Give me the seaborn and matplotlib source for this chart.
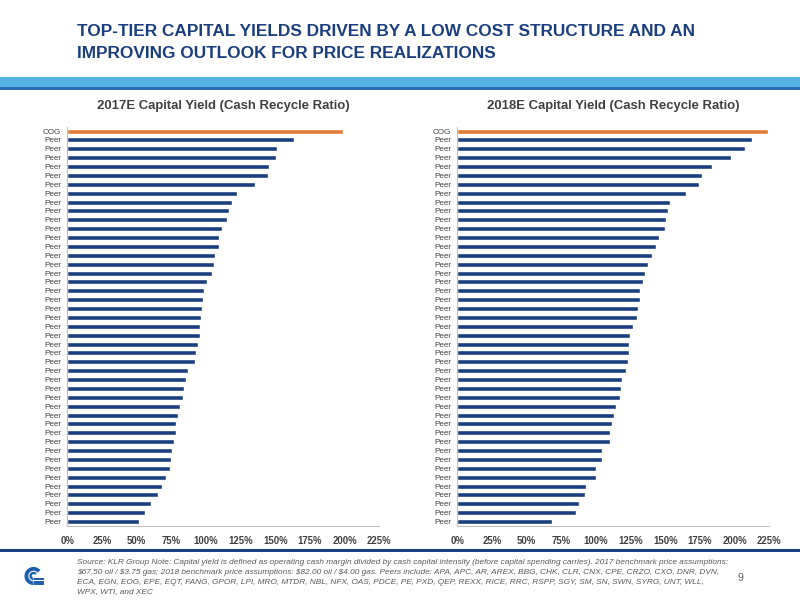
import numpy as np
import pandas as pd
import matplotlib
matplotlib.use("Agg")
import matplotlib.pyplot as plt
import matplotlib.font_manager as fm
from matplotlib.patches import Rectangle, Wedge
from matplotlib.ticker import FixedLocator, FuncFormatter
import seaborn as sns

# data (capital yield, %)
labels = ["COG"] + ["Peer"] * 44
yield_2017 = [198.6, 163.5, 151.2, 150.5, 145.4, 144.5, 135.3, 122.6, 118.5, 116.6,
              115.4, 111.8, 109.4, 109.1, 106.3, 106.0, 104.6, 100.5, 98.6, 97.8,
              97.1, 96.6, 95.7, 95.4, 94.2, 93.0, 91.8, 87.0, 85.6, 83.9,
              83.7, 81.5, 79.6, 78.1, 78.1, 76.7, 75.5, 74.8, 74.0, 71.2,
              68.0, 65.6, 60.3, 56.0, 51.4]
yield_2018 = [224.3, 212.5, 207.5, 197.4, 183.7, 176.4, 174.3, 164.9, 153.6, 151.9,
              150.5, 150.0, 145.7, 143.3, 140.4, 137.7, 135.1, 133.9, 131.7, 131.7,
              130.3, 129.6, 126.4, 124.8, 124.0, 123.6, 122.8, 121.4, 119.0, 117.8,
              117.5, 114.4, 113.0, 111.5, 109.9, 109.9, 104.3, 104.1, 100.2, 99.8,
              92.8, 92.1, 87.7, 85.8, 68.0]
x_ticks = [0, 25, 50, 75, 100, 125, 150, 175, 200, 225]
chart_titles = ["2017E Capital Yield (Cash Recycle Ratio)", "2018E Capital Yield (Cash Recycle Ratio)"]
title_lines = ["TOP-TIER CAPITAL YIELDS DRIVEN BY A LOW COST STRUCTURE AND AN",
               "IMPROVING OUTLOOK FOR PRICE REALIZATIONS"]
note_lines = [
    "Source: KLR Group Note: Capital yield is defined as operating cash margin divided by cash capital intensity (before capital spending carries). 2017 benchmark price assumptions:",
    "$67.50 oil / $3.75 gas; 2018 benchmark price assumptions: $82.00 oil / $4.00 gas. Peers include: APA, APC, AR, AREX, BBG, CHK, CLR, CNX, CPE, CRZO, CXO, DNR, DVN,",
    "ECA, EGN, EOG, EPE, EQT, FANG, GPOR, LPI, MRO, MTDR, NBL, NFX, OAS, PDCE, PE, PXD, QEP, REXX, RICE, RRC, RSPP, SGY, SM, SN, SWN, SYRG, UNT, WLL,",
    "WPX, WTI, and XEC",
]

NAVY = "#1B3F7E"
ORANGE = "#E07B39"
GREY = "#404040"

sns.set_style("white")
available = {f.name for f in fm.fontManager.ttflist}
if "Liberation Sans Narrow" in available:
    FONT, scale = "Liberation Sans Narrow", 1.0
else:
    FONT, scale = "Liberation Sans", 0.84
plt.rcParams["font.family"] = [FONT, "DejaVu Sans"]
plt.rcParams["text.parse_math"] = False

fig = plt.figure(figsize=(8, 6), dpi=100)
W, H = 800.0, 600.0

# page title
fig.text(77 / W, 1 - 31 / H, title_lines[0], fontsize=14.8 * scale, fontweight="bold",
         color=NAVY, va="center", ha="left")
fig.text(77 / W, 1 - 53 / H, title_lines[1], fontsize=14.8 * scale, fontweight="bold",
         color=NAVY, va="center", ha="left")

# blue band under the title
fig.patches.append(Rectangle((0, 1 - 86.5 / H), 1, 9.5 / H, transform=fig.transFigure,
                             facecolor="#55B3E4", edgecolor="none"))
fig.patches.append(Rectangle((0, 1 - 89.5 / H), 1, 3 / H, transform=fig.transFigure,
                             facecolor="#2F6CB5", edgecolor="none"))
# footer rule
fig.patches.append(Rectangle((0, 1 - 551.5 / H), 1, 2.4 / H, transform=fig.transFigure,
                             facecolor=NAVY, edgecolor="none"))

ax_left = fig.add_axes([67.3 / W, 1 - 526 / H, 312 / W, 399.4 / H])
ax_right = fig.add_axes([457.3 / W, 1 - 526 / H, 312 / W, 399.4 / H])

for ax, vals, ttl in zip([ax_left, ax_right], [yield_2017, yield_2018], chart_titles):
    df = pd.DataFrame({"pos": np.arange(len(vals)), "val": vals,
                       "grp": ["COG" if l == "COG" else "Peer" for l in labels]})
    sns.barplot(data=df, x="val", y="pos", hue="grp", orient="h", dodge=False,
                palette={"COG": ORANGE, "Peer": NAVY}, width=0.56, legend=False,
                saturation=1, ax=ax)
    ax.set_xlim(0, 225)
    ax.set_ylim(len(vals) - 0.5, -0.5)
    ax.set_xlabel("")
    ax.set_ylabel("")
    ax.set_yticks(np.arange(len(vals)))
    ax.set_yticklabels(labels, fontsize=7 * scale, color=GREY)
    ax.yaxis.set_minor_locator(FixedLocator(np.arange(-0.5, len(vals), 1)))
    ax.tick_params(axis="y", which="major", length=0, pad=4.5)
    ax.tick_params(axis="y", which="minor", length=2.5, color="#BFBFBF", width=0.8)
    ax.set_xticks(x_ticks)
    ax.xaxis.set_major_formatter(FuncFormatter(lambda v, p: "{:.0f}%".format(v)))
    ax.tick_params(axis="x", length=3, color="#BFBFBF", width=0.8, pad=4,
                   labelsize=8.3 * scale, labelcolor=GREY)
    for lab in ax.get_xticklabels():
        lab.set_fontweight("bold")
    for side in ["top", "right"]:
        ax.spines[side].set_visible(False)
    for side in ["left", "bottom"]:
        ax.spines[side].set_color("#BFBFBF")
        ax.spines[side].set_linewidth(0.8)
    ax.set_title(ttl, fontsize=11.2 * scale, fontweight="bold", color=GREY, pad=13)

# footnote
for i, line in enumerate(note_lines):
    fig.text(77 / W, 1 - (563 + 9.6 * i) / H, line, fontsize=7.05 * scale, style="italic",
             color="#595959", va="center", ha="left")
fig.text(738 / W, 1 - 578 / H, "9", fontsize=9 * scale, color="#595959", va="center", ha="left")

# logo
lax = fig.add_axes([24 / W, 1 - 586 / H, 20 / W, 20 / H])
lax.set_xlim(-1.05, 1.15)
lax.set_ylim(-1.1, 1.1)
lax.set_aspect("equal")
lax.axis("off")
lax.add_patch(Wedge((0, 0), 1.0, 40, 270, width=0.42, facecolor="#1F5FAE", edgecolor="none"))
lax.add_patch(Rectangle((0, -1.0), 1.1, 0.42, facecolor="#1F5FAE", edgecolor="none"))
lax.add_patch(Wedge((0, 0), 0.46, 40, 270, width=0.26, facecolor="#1F5FAE", edgecolor="none"))
lax.add_patch(Rectangle((0, -0.46), 1.1, 0.26, facecolor="#1F5FAE", edgecolor="none"))

fig.savefig("out.png", dpi=100)
